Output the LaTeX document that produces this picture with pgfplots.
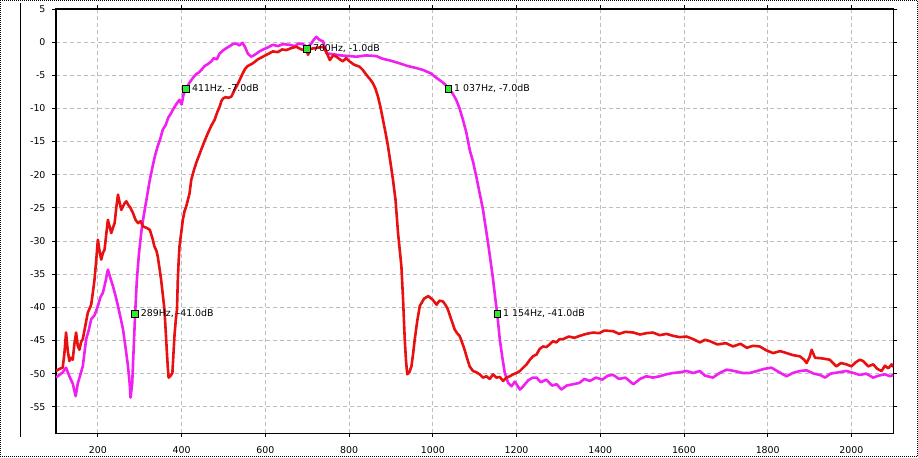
\documentclass[border=0pt]{standalone}
\usepackage{pgfplots}
\pgfplotsset{compat=1.18}
\usepackage{fontspec}
\setmainfont{DejaVu Sans}
\definecolor{curvered}{RGB}{232,16,16}
\definecolor{curvemag}{RGB}{240,32,240}
\definecolor{markgreen}{RGB}{50,230,50}
\definecolor{gridgray}{RGB}{190,190,190}
\begin{document}
\begin{tikzpicture}
\begin{axis}[
    at={(0,0)}, anchor=south west,
    scale only axis,
    width=837.3pt, height=424.3pt, % Plotfläche in px = pt
    xmin=100, xmax=2100,
    ymin=-59, ymax=5,
    xtick={200,400,...,2000},
    ytick={-55,-50,...,5},
    grid=major,
    major grid style={gridgray, line width=0.8pt, dash pattern=on 4pt off 3pt},
    axis line style={black, line width=1.2pt},
    tick align=outside,
    major tick length=4pt,
    tick style={black, line width=0.8pt},
    ticklabel style={font=\fontsize{9.4}{11}\selectfont},
    xticklabel style={anchor=north, yshift=-6pt},
    yticklabel style={anchor=east, xshift=-3pt},
    /pgf/number format/assume math mode=true,
    /pgf/number format/1000 sep={},
    clip=true,
]

% Kurve 1 (magenta)
\addplot[curvemag, line width=2.6pt, line join=round] coordinates {
(100,-50.6) (108,-50.2) (116,-49.8) (124,-49.1) (132,-50.4) (140,-51.5)
(147,-53.4) (152,-51.5) (158,-50.2) (164,-48.9) (172,-44.8) (178,-43.5)
(184,-41.8) (192,-41.2) (200,-39.8) (206,-38.5) (212,-37.8) (218,-36.2)
(224,-34.3) (230,-35.6) (236,-36.8) (242,-38.2) (248,-39.8) (254,-41.5)
(260,-43.3) (266,-46.0) (272,-48.9) (276,-51.5) (278,-53.6) (282,-51.5)
(285,-47.0) (289,-41.0) (293,-36.0) (298,-32.0) (304,-28.5) (310,-26.0)
(316,-23.8) (324,-20.8) (331,-18.7) (337,-17.0) (343,-15.7) (349,-14.6)
(355,-13.2) (362,-12.5) (368,-11.4) (375,-10.7) (381,-10.0) (388,-9.3)
(395,-8.7) (400,-9.4) (405,-7.8) (411,-7.0) (419,-6.1) (427,-5.4)
(435,-4.8) (441,-4.6) (447,-4.2) (455,-3.6) (463,-3.3) (471,-2.9)
(477,-2.4) (484,-2.6) (491,-1.7) (500,-1.2) (507,-0.9) (515,-0.6)
(522,-0.3) (531,-0.2) (538,-0.5) (546,-0.1) (552,-0.8) (558,-1.7)
(566,-2.2) (575,-1.9) (586,-1.4) (595,-1.1) (606,-0.8) (618,-0.4)
(630,-0.6) (642,-0.3) (658,-0.4) (670,-0.6) (680,-0.2) (690,-0.3)
(700,-0.8) (710,-0.2) (716,0.4) (722,0.8) (728,0.4) (738,0.1)
(746,-1.7) (760,-1.8) (780,-2.0) (800,-2.1) (817,-2.2) (840,-2.0)
(865,-2.1) (880,-2.5) (900,-2.8) (921,-3.2) (940,-3.6) (960,-3.9)
(977,-4.2) (995,-4.7) (1009,-5.4) (1020,-5.9) (1030,-6.4) (1037,-7.0)
(1046,-7.6) (1056,-8.7) (1064,-10.0) (1072,-11.7) (1080,-13.6) (1088,-16.2)
(1096,-18.0) (1104,-20.3) (1112,-22.8) (1120,-25.3) (1126,-27.8) (1132,-30.3)
(1138,-33.0) (1144,-35.8) (1149,-38.5) (1154,-41.0) (1160,-44.8) (1166,-47.5)
(1172,-49.9) (1180,-51.4) (1188,-51.9) (1196,-51.2) (1208,-52.4) (1216,-51.9)
(1228,-51.0) (1239,-50.6) (1248,-50.6) (1258,-51.3) (1271,-50.9) (1285,-51.8)
(1296,-51.6) (1307,-52.4) (1320,-51.8) (1335,-51.6) (1350,-51.4) (1362,-50.8)
(1375,-51.1) (1390,-50.6) (1405,-50.9) (1418,-50.3) (1431,-50.2) (1445,-50.8)
(1460,-50.6) (1479,-51.6) (1495,-50.8) (1510,-50.4) (1526,-50.6) (1542,-50.4)
(1558,-50.1) (1574,-49.9) (1590,-49.8) (1606,-49.6) (1622,-49.9) (1638,-49.6)
(1650,-50.3) (1669,-50.6) (1685,-49.9) (1702,-49.4) (1720,-49.6) (1740,-49.9)
(1757,-49.9) (1775,-49.6) (1790,-49.3) (1809,-49.1) (1825,-49.7) (1845,-50.4)
(1860,-49.9) (1877,-49.6) (1893,-49.5) (1910,-50.0) (1925,-50.2) (1937,-50.6)
(1950,-50.0) (1970,-49.8) (1988,-49.6) (2005,-49.9) (2020,-50.2) (2035,-50.0)
(2052,-50.6) (2065,-50.3) (2080,-50.1) (2092,-50.4) (2100,-50.2)
};

% Kurve 2 (rot)
\addplot[curvered, line width=2.6pt, line join=round] coordinates {
(100,-49.6) (108,-49.3) (116,-49.1) (120,-47.0) (124,-43.8) (128,-46.5)
(132,-48.1) (136,-47.6) (140,-47.9) (144,-45.5) (148,-43.8) (152,-45.8)
(156,-46.4) (160,-45.2) (164,-44.8) (170,-42.8) (176,-40.8) (184,-39.6)
(188,-37.8) (192,-35.8) (196,-33.0) (200,-29.8) (204,-31.5) (208,-32.8)
(212,-31.8) (216,-31.3) (220,-29.0) (224,-26.8) (228,-27.8) (232,-28.8)
(236,-28.0) (240,-27.3) (244,-25.0) (248,-23.0) (252,-24.2) (256,-25.3)
(260,-24.8) (264,-24.3) (268,-24.0) (272,-24.5) (278,-25.0) (284,-25.8)
(290,-26.8) (296,-27.3) (302,-27.0) (308,-27.8) (316,-28.0) (324,-28.3)
(330,-29.5) (335,-30.8) (340,-31.5) (343,-32.3) (347,-34.0) (351,-35.8)
(355,-38.0) (359,-40.3) (362,-43.5) (365,-46.9) (367,-49.0) (369,-50.6)
(374,-50.3) (378,-49.9) (381,-46.5) (383,-44.3) (386,-42.0) (389,-40.3)
(391,-35.8) (393,-33.0) (395,-30.8) (399,-28.8) (403,-26.8) (407,-25.5)
(411,-24.8) (415,-23.8) (419,-22.8) (423,-20.8) (429,-19.4) (435,-18.2)
(441,-17.2) (447,-16.2) (455,-14.9) (463,-13.7) (471,-12.6) (479,-11.7)
(485,-10.6) (491,-9.7) (495,-8.9) (499,-8.5) (505,-8.3) (512,-8.4)
(519,-8.2) (525,-7.4) (531,-6.7) (538,-5.8) (546,-4.7) (552,-4.0)
(558,-3.6) (570,-3.2) (582,-2.6) (594,-2.2) (606,-1.8) (618,-1.4)
(630,-1.5) (640,-1.1) (650,-1.2) (662,-0.9) (674,-0.7) (686,-1.1)
(698,-1.2) (702,-1.9) (708,-1.0) (720,-0.9) (738,-0.7) (746,-1.5)
(754,-2.7) (762,-2.0) (770,-2.2) (778,-2.6) (785,-2.9) (793,-2.4)
(801,-2.9) (812,-3.4) (825,-3.7) (833,-4.2) (841,-4.9) (849,-5.5)
(857,-6.2) (863,-7.0) (869,-8.2) (875,-9.8) (881,-11.7) (887,-13.6)
(893,-15.7) (899,-18.2) (905,-20.8) (911,-23.8) (917,-28.8) (921,-31.3)
(925,-33.8) (929,-38.8) (933,-44.8) (936,-48.0) (939,-50.1) (944,-49.8)
(949,-48.9) (953,-47.0) (957,-44.8) (963,-42.0) (969,-39.8) (979,-38.7)
(989,-38.3) (999,-38.8) (1009,-39.6) (1016,-39.0) (1024,-39.1) (1030,-39.6)
(1036,-40.3) (1044,-41.8) (1052,-43.3) (1058,-43.9) (1064,-44.3) (1070,-45.3)
(1076,-46.4) (1082,-47.7) (1088,-48.9) (1096,-49.6) (1104,-49.8) (1112,-50.1)
(1120,-50.6) (1128,-50.4) (1136,-50.8) (1144,-50.1) (1152,-50.6) (1160,-50.5)
(1168,-51.1) (1176,-50.6) (1184,-50.4) (1192,-50.1) (1200,-49.9) (1208,-49.6)
(1216,-49.1) (1224,-48.6) (1232,-47.9) (1239,-47.4) (1248,-47.1) (1255,-46.3)
(1263,-45.9) (1271,-46.0) (1279,-45.6) (1287,-45.1) (1295,-45.3) (1303,-44.8)
(1311,-44.8) (1325,-44.4) (1338,-44.6) (1351,-44.3) (1367,-44.0) (1383,-43.8)
(1397,-43.9) (1410,-43.5) (1431,-43.6) (1445,-44.0) (1460,-43.7) (1479,-43.8)
(1495,-44.1) (1510,-43.9) (1526,-43.8) (1542,-44.2) (1558,-44.0) (1574,-44.3)
(1590,-44.5) (1606,-44.4) (1622,-44.8) (1638,-45.3) (1650,-44.9) (1662,-45.1)
(1680,-45.6) (1700,-45.4) (1717,-45.9) (1735,-45.5) (1750,-46.1) (1765,-45.8)
(1781,-45.9) (1797,-46.5) (1813,-46.9) (1830,-46.6) (1845,-46.9) (1860,-47.2)
(1877,-47.4) (1887,-47.9) (1893,-48.4) (1900,-47.5) (1905,-46.4) (1913,-47.6)
(1930,-47.7) (1948,-47.9) (1956,-48.4) (1964,-48.9) (1975,-48.4) (1988,-48.6)
(2000,-48.9) (2010,-48.3) (2020,-47.9) (2028,-48.1) (2040,-48.9) (2052,-48.6)
(2062,-49.3) (2072,-49.6) (2080,-48.8) (2088,-49.2) (2096,-48.6) (2100,-49.0)
};

% Marker mit Beschriftung
\addplot[only marks, mark=square*, mark size=3.4pt,
    mark options={fill=markgreen, draw=black, line width=0.7pt},
    point meta=explicit symbolic,
    nodes near coords,
    nodes near coords style={anchor=west, xshift=5.5pt, inner sep=0pt,
        font=\fontsize{9.4}{11}\selectfont, text=black},
] coordinates {
(289,-41) [289Hz, -41.0dB]
(411,-7) [411Hz, -7.0dB]
(700,-1) [700Hz, -1.0dB]
(1037,-7) [1 037Hz, -7.0dB]
(1154,-41) [1 154Hz, -41.0dB]
};
\end{axis}

% Fensterrahmen und linke Trennlinie
\draw[black, line width=0.8pt] (-35.3pt,-3.7pt) -- (-35.3pt,430pt);
\draw[black, line width=0.8pt, dash pattern=on 1pt off 1pt]
    (-55.6pt,-23.3pt) rectangle (861.6pt,432.9pt);
\path[use as bounding box] (-56pt,-23.7pt) rectangle (862pt,433.3pt);
\end{tikzpicture}
\end{document}
